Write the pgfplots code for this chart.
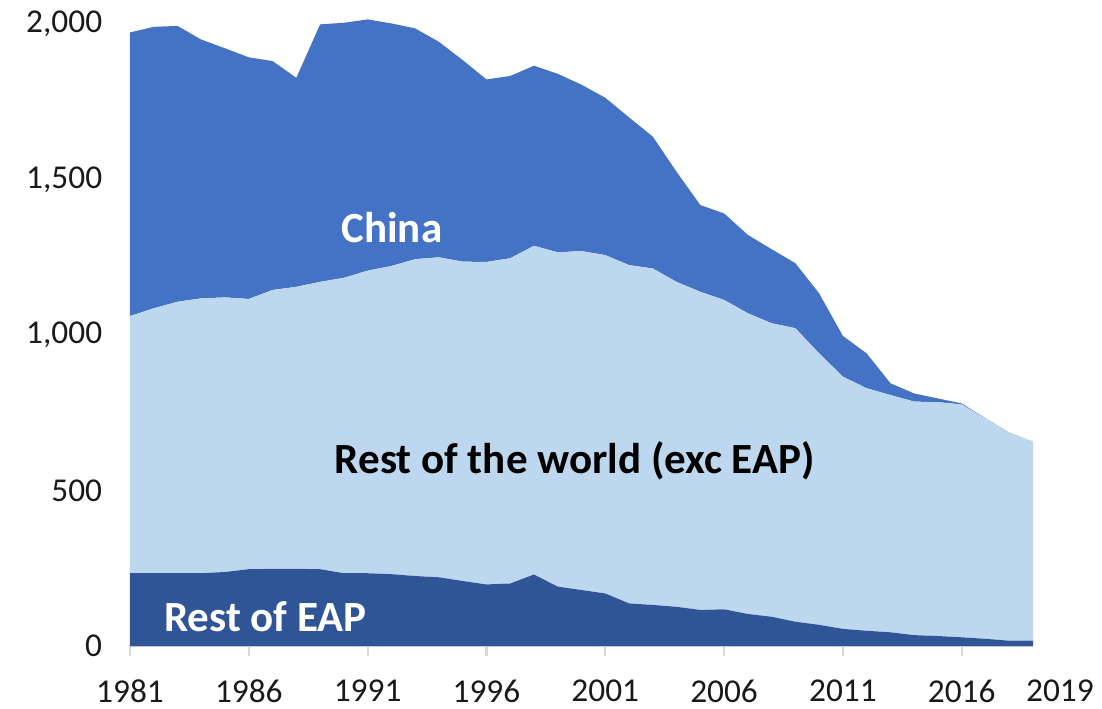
\documentclass[border=0pt]{standalone}
\usepackage{pgfplots}
\usepackage{pgfplotstable}
\pgfplotsset{compat=1.18}
\usepackage{fontspec}
\setmainfont{Carlito}
\definecolor{china}{HTML}{4472C4}
\definecolor{rowc}{HTML}{BDD7EE}
\definecolor{eap}{HTML}{2F5597}
\definecolor{axgray}{HTML}{D9D9D9}

\pgfplotstableread{
year eap row china
1981 234 827 912
1982 234 852 905
1983 234 873 887
1984 234 884 832
1985 238 883 801
1986 247 869 777
1987 248 897 736
1988 248 907 672
1989 247 924 828
1990 234 950 820
1991 234 973 808
1992 231 991 780
1993 225 1019 742
1994 221 1029 693
1995 209 1027 648
1996 198 1037 587
1997 201 1046 586
1998 230 1057 579
1999 191 1075 574
2000 180 1090 535
2001 169 1088 506
2002 137 1088 475
2003 132 1082 424
2004 126 1045 354
2005 116 1023 279
2006 118 995 278
2007 103 967 252
2008 94 944 238
2009 78 944 209
2010 68 873 193
2011 55 811 131
2012 49 780 112
2013 44 763 38
2014 35 751 26
2015 32 752 12
2016 28 749 3
2017 23 708 1
2018 17 668 1
2019 17 640 0
}\data

\begin{document}
\begin{tikzpicture}
\path[use as bounding box] (0,0) rectangle (396.72pt,254.88pt);
\begin{axis}[
  at={(46.8pt,22.32pt)}, anchor=south west,
  scale only axis, width=325.08pt, height=229.5pt,
  xmin=1981, xmax=2019, ymin=0, ymax=2050,
  stack plots=y,
  axis x line*=bottom, axis y line*=left,
  x axis line style={draw=axgray, line width=0.8pt},
  y axis line style={draw=none},
  xtick={1981,1986,1991,1996,2001,2006,2011,2016},
  ytick={0,500,1000,1500,2000},
  x tick style={draw=axgray, line width=0.8pt},
  xtick align=outside, major tick length=3.6pt,
  y tick style={draw=none},
  tick label style={font=\fontsize{12}{14}\selectfont, text=black!90},
  xticklabel style={/pgf/number format/1000 sep={}, yshift=-5pt},
  yticklabel style={/pgf/number format/1000 sep={,}, xshift=-6.5pt},
  /pgf/number format/assume math mode=true,
  extra x ticks={2019},
  extra x tick labels={2019},
  extra x tick style={major tick length=0pt, tick label style={xshift=9.7pt, yshift=-3.6pt}},
  clip=false,
]
\addplot[fill=eap, draw=none] table[x=year, y=eap] {\data} \closedcycle;
\addplot[fill=rowc, draw=none] table[x=year, y=row] {\data} \closedcycle;
\addplot[fill=china, draw=none] table[x=year, y=china] {\data} \closedcycle;
\coordinate (lchina) at (axis cs:1992.02,1296);
\coordinate (lrow) at (axis cs:1999.72,556);
\coordinate (leap) at (axis cs:1986.7,46);
\end{axis}
\node[anchor=base, text=white, font=\bfseries\fontsize{15.5}{18}\selectfont] at (lchina) {China};
\node[anchor=base, text=black, font=\bfseries\fontsize{15.5}{18}\selectfont] at (lrow) {Rest of the world (exc EAP)};
\node[anchor=base, text=white, font=\bfseries\fontsize{15.5}{18}\selectfont] at (leap) {Rest of EAP};
\end{tikzpicture}
\end{document}
